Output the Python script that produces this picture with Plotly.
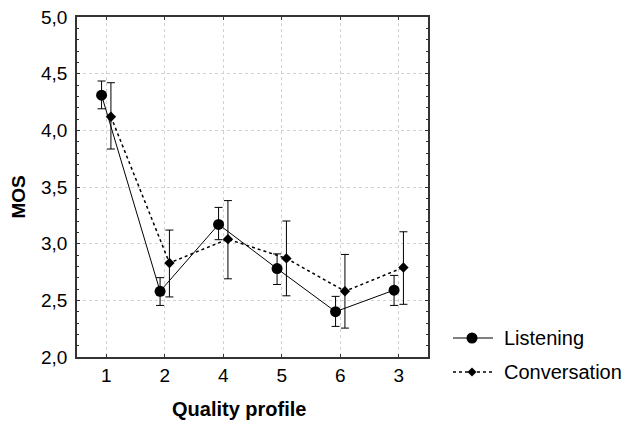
import plotly.graph_objects as go

categories = ["1", "2", "4", "5", "6", "3"]
listening_mean = [4.31, 2.58, 3.17, 2.78, 2.40, 2.59]
listening_hi = [4.435, 2.70, 3.32, 2.91, 2.535, 2.72]
listening_lo = [4.19, 2.455, 3.035, 2.64, 2.27, 2.455]
conv_mean = [4.12, 2.83, 3.04, 2.87, 2.58, 2.79]
conv_hi = [4.42, 3.12, 3.38, 3.20, 2.905, 3.105]
conv_lo = [3.835, 2.53, 2.69, 2.54, 2.255, 2.465]
y_ticks = [2, 2.5, 3, 3.5, 4, 4.5, 5]
y_ticktext = ["2,0", "2,5", "3,0", "3,5", "4,0", "4,5", "5,0"]
series_names = ["Listening", "Conversation"]

offset = 0.08
pos = list(range(len(categories)))
xl = [p - offset for p in pos]
xc = [p + offset for p in pos]

FONT = "Liberation Sans, Arial, sans-serif"
W, H = 625, 421
ML, MR, MT, MB = 77, 197, 17, 64
PW, PH = W - ML - MR, H - MT - MB


def px(x):
    return (x - ML) / PW


def py(y):
    return (H - MB - y) / PH


fig = go.Figure()
fig.add_trace(go.Scatter(
    x=xl, y=listening_mean, name=series_names[0], mode="lines+markers",
    line=dict(color="black", width=1),
    marker=dict(symbol="circle", size=11, color="black"),
    error_y=dict(type="data", symmetric=False,
                 array=[h - m for h, m in zip(listening_hi, listening_mean)],
                 arrayminus=[m - l for m, l in zip(listening_mean, listening_lo)],
                 color="black", thickness=1, width=4),
    showlegend=False,
))
fig.add_trace(go.Scatter(
    x=xc, y=conv_mean, name=series_names[1], mode="lines+markers",
    line=dict(color="black", width=1.5, dash="dot"),
    marker=dict(symbol="diamond", size=8, color="black"),
    error_y=dict(type="data", symmetric=False,
                 array=[h - m for h, m in zip(conv_hi, conv_mean)],
                 arrayminus=[m - l for m, l in zip(conv_mean, conv_lo)],
                 color="black", thickness=1, width=4),
    showlegend=False,
))

fig.update_layout(
    width=W, height=H,
    margin=dict(l=ML, r=MR, t=MT, b=MB),
    plot_bgcolor="white", paper_bgcolor="white",
    font=dict(family=FONT, size=19, color="black"),
    showlegend=False,
    xaxis=dict(range=[-0.5, 5.5], tickvals=pos, ticktext=categories,
               showgrid=True, gridcolor="#d2d2d2", griddash="dot", gridwidth=1,
               showline=True, linecolor="#333", linewidth=1.5, mirror="allticks",
               ticks="inside", ticklen=3, tickcolor="#333",
               zeroline=False, ticklabelstandoff=0, automargin=False),
    yaxis=dict(range=[2, 5], tickvals=y_ticks, ticktext=y_ticktext,
               showgrid=True, gridcolor="#d2d2d2", griddash="dot", gridwidth=1,
               showline=True, linecolor="#333", linewidth=1.5, mirror="allticks",
               ticks="inside", ticklen=3, tickcolor="#333",
               minor=dict(dtick=0.1, ticks="inside", ticklen=2, tickcolor="#333", showgrid=False),
               zeroline=False, ticklabelstandoff=4, automargin=False),
)

fig.add_annotation(text="<b>MOS</b>", x=-0.167, y=0.47, xref="paper", yref="paper",
                   showarrow=False, textangle=-90, font=dict(size=19),
                   xanchor="center", yanchor="middle")
fig.add_annotation(text="<b>Quality profile</b>", x=0.462, y=-0.153, xref="paper", yref="paper",
                   showarrow=False, font=dict(size=20), xanchor="center", yanchor="middle")

# Manual legend
leg_rows = [(338, "solid", 1, "circle"), (372, "dot", 1.5, "diamond")]
for name, (ry, dash, lw, sym) in zip(series_names, leg_rows):
    fig.add_shape(type="line", xref="paper", yref="paper",
                  x0=px(453), x1=px(493), y0=py(ry), y1=py(ry),
                  line=dict(color="black", width=lw, dash=dash))
    if sym == "circle":
        fig.add_shape(type="circle", xref="paper", yref="paper",
                      xsizemode="pixel", ysizemode="pixel",
                      xanchor=px(472), yanchor=py(ry),
                      x0=-5.5, x1=5.5, y0=-5.5, y1=5.5,
                      fillcolor="black", line=dict(color="black", width=0))
    else:
        fig.add_shape(type="path", xref="paper", yref="paper",
                      xsizemode="pixel", ysizemode="pixel",
                      xanchor=px(472), yanchor=py(ry),
                      path="M -4.5 0 L 0 4.5 L 4.5 0 L 0 -4.5 Z",
                      fillcolor="black", line=dict(color="black", width=0))
    fig.add_annotation(text=name, x=px(502), y=py(ry), xref="paper", yref="paper",
                       showarrow=False, xanchor="left", yanchor="middle",
                       font=dict(size=20))

fig.write_html("out.html", config={"displayModeBar": False},
               post_script="document.body.style.margin='0';document.body.style.overflow='hidden';")
